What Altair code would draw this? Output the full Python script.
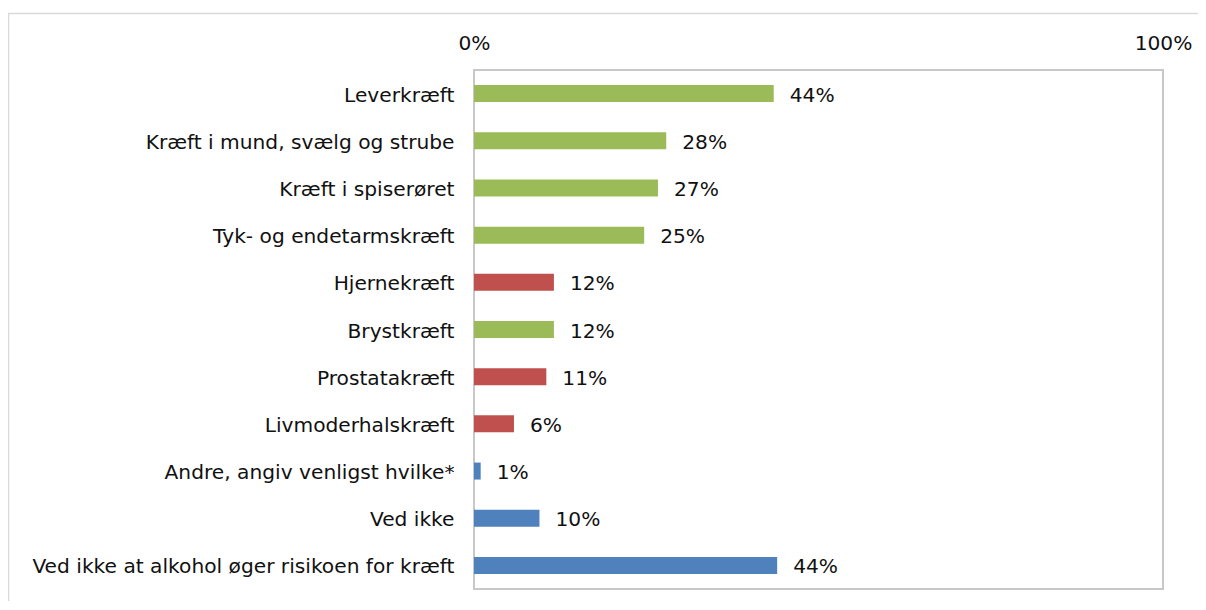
import altair as alt
import pandas as pd

categories = [
    "Leverkræft",
    "Kræft i mund, svælg og strube",
    "Kræft i spiserøret",
    "Tyk- og endetarmskræft",
    "Hjernekræft",
    "Brystkræft",
    "Prostatakræft",
    "Livmoderhalskræft",
    "Andre, angiv venligst hvilke*",
    "Ved ikke",
    "Ved ikke at alkohol øger risikoen for kræft",
]
values = [0.435, 0.279, 0.267, 0.247, 0.116, 0.116, 0.105, 0.058, 0.0097, 0.095, 0.440]
labels = ["44%", "28%", "27%", "25%", "12%", "12%", "11%", "6%", "1%", "10%", "44%"]
groups = ["g", "g", "g", "g", "r", "g", "r", "r", "b", "b", "b"]
group_domain = ["g", "r", "b"]
group_colors = ["#9BBB59", "#C0504D", "#4F81BD"]

df = pd.DataFrame({"cat": categories, "val": values, "lab": labels, "grp": groups})

FONT = "DejaVu Sans"
FS = 20.2

y_enc = alt.Y(
    "cat:N",
    sort=categories,
    scale=alt.Scale(paddingInner=0.64, paddingOuter=0.32),
    axis=alt.Axis(
        title=None, domain=False, ticks=False, tickSize=0, labelPadding=20,
        labelLimit=600, labelFont=FONT, labelFontSize=FS, labelColor="#111111",
        labelBaseline="middle", labelOffset=2,
    ),
)
x_enc = alt.X(
    "val:Q",
    scale=alt.Scale(domain=[0, 1], nice=False),
    axis=alt.Axis(
        title=None, orient="top", values=[0, 1], format="%", domain=False,
        ticks=False, tickSize=0, grid=False, labelPadding=17,
        labelFont=FONT, labelFontSize=FS, labelColor="#111111", labelFlush=False,
    ),
)

bars = alt.Chart(df).mark_bar().encode(
    x=x_enc,
    y=y_enc,
    color=alt.Color("grp:N", scale=alt.Scale(domain=group_domain, range=group_colors), legend=None),
)

text = alt.Chart(df).mark_text(
    align="left", baseline="middle", dx=16, dy=2, font=FONT, fontSize=FS, color="#111111"
).encode(
    x="val:Q",
    y=alt.Y("cat:N", sort=categories),
    text="lab:N",
)

frame = alt.Chart(pd.DataFrame({"k": [0]})).mark_rect(
    fill=None, stroke="#d9d9d9", strokeWidth=1.5
).encode(
    x=alt.value(-465.5), x2=alt.value(900),
    y=alt.value(-56.5), y2=alt.value(700),
)

chart = alt.layer(frame, bars, text).properties(
    width=689,
    height=519,
    autosize=alt.AutoSizeParams(type="none"),
    padding={"left": 466, "top": 62, "right": 35, "bottom": 12},
).configure_view(
    stroke="#c8c8c8", strokeWidth=2
)

chart.save("out.html", embed_options={"renderer": "svg", "actions": False})
